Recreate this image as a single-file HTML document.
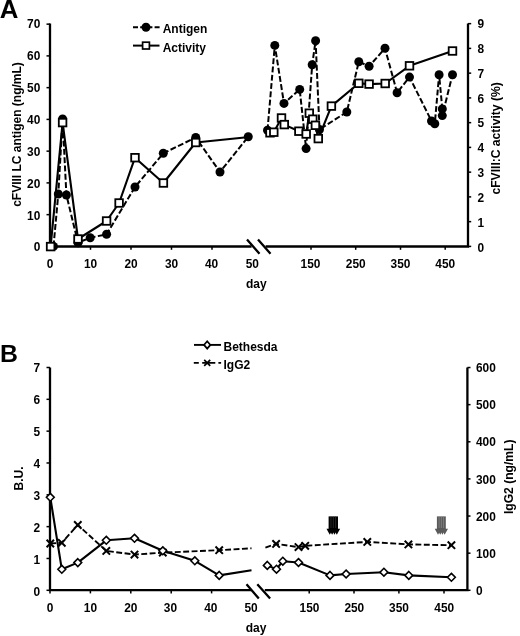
<!DOCTYPE html>
<html><head><meta charset="utf-8"><title>Figure</title>
<style>html,body{margin:0;padding:0;background:#fff;}svg{display:block;filter:grayscale(1);}</style>
</head><body>
<svg width="520" height="636" viewBox="0 0 520 636">
<rect width="520" height="636" fill="#fff"/>
<g font-family="Liberation Sans, sans-serif" font-weight="bold" fill="#000">
<text x="-0.3" y="17.9" font-size="25.8">A</text>
<text x="0" y="362.1" font-size="24.8">B</text>
<g stroke="#000" stroke-width="2.3" fill="none">
<path d="M50,23.4V246.5H251.6"/>
<path d="M265.6,246.5H468V23.4"/>
<path d="M247,239.5L259.5,253.8M258,239.5L270.5,253.8"/>
</g>
<g stroke="#000" stroke-width="1.5">
<path d="M46.5,246.40H50"/>
<path d="M46.5,214.65H50"/>
<path d="M46.5,182.90H50"/>
<path d="M46.5,151.15H50"/>
<path d="M46.5,119.40H50"/>
<path d="M46.5,87.65H50"/>
<path d="M46.5,55.90H50"/>
<path d="M46.5,24.15H50"/>
<path d="M468,246.40H471.2"/>
<path d="M468,221.65H471.2"/>
<path d="M468,196.90H471.2"/>
<path d="M468,172.15H471.2"/>
<path d="M468,147.40H471.2"/>
<path d="M468,122.65H471.2"/>
<path d="M468,97.90H471.2"/>
<path d="M468,73.15H471.2"/>
<path d="M468,48.40H471.2"/>
<path d="M468,23.65H471.2"/>
<path d="M50,246.4V249.8"/>
<path d="M90.5,246.4V249.8"/>
<path d="M131,246.4V249.8"/>
<path d="M171.5,246.4V249.8"/>
<path d="M212,246.4V249.8"/>
<path d="M311,246.4V249.8"/>
<path d="M355.7,246.4V249.8"/>
<path d="M400.5,246.4V249.8"/>
<path d="M445.2,246.4V249.8"/>
</g>
<g font-size="11.9">
<text x="40.3" y="251.40" text-anchor="end">0</text>
<text x="40.3" y="219.55" text-anchor="end">10</text>
<text x="40.3" y="187.70" text-anchor="end">20</text>
<text x="40.3" y="155.85" text-anchor="end">30</text>
<text x="40.3" y="124.00" text-anchor="end">40</text>
<text x="40.3" y="92.15" text-anchor="end">50</text>
<text x="40.3" y="60.30" text-anchor="end">60</text>
<text x="40.3" y="28.45" text-anchor="end">70</text>
<text x="477.6" y="251.50">0</text>
<text x="477.6" y="226.68">1</text>
<text x="477.6" y="201.87">2</text>
<text x="477.6" y="177.05">3</text>
<text x="477.6" y="152.23">4</text>
<text x="477.6" y="127.42">5</text>
<text x="477.6" y="102.60">6</text>
<text x="477.6" y="77.78">7</text>
<text x="477.6" y="52.97">8</text>
<text x="477.6" y="28.15">9</text>
<text x="50" y="268.1" text-anchor="middle">0</text>
<text x="90.5" y="268.1" text-anchor="middle">10</text>
<text x="131" y="268.1" text-anchor="middle">20</text>
<text x="171.5" y="268.1" text-anchor="middle">30</text>
<text x="211.5" y="268.1" text-anchor="middle">40</text>
<text x="252.3" y="268.1" text-anchor="middle">50</text>
<text x="310.5" y="268.1" text-anchor="middle">150</text>
<text x="355.7" y="268.1" text-anchor="middle">250</text>
<text x="400.5" y="268.1" text-anchor="middle">350</text>
<text x="445.2" y="268.1" text-anchor="middle">450</text>
</g>
<text x="256.3" y="287.5" font-size="12" text-anchor="middle">day</text>
<text transform="translate(21,134.5) rotate(-90)" font-size="12" text-anchor="middle">cFVIII LC antigen (ng/mL)</text>
<text transform="translate(500.4,138.4) rotate(-90)" font-size="12.1" text-anchor="middle">cFVIII:C activity (%)</text>
<path d="M133,27.3H160.5" stroke="#000" stroke-width="2" stroke-dasharray="5 2.2" fill="none"/>
<circle cx="146" cy="27.3" r="4.5"/>
<text x="162.7" y="33.4" font-size="12">Antigen</text>
<path d="M133,45.6H159.5" stroke="#000" stroke-width="2" fill="none"/>
<rect x="142.6" y="42.2" width="6.8" height="6.8" fill="#fff" stroke="#000" stroke-width="1.7"/>
<text x="162.7" y="51.7" font-size="12">Activity</text>
<polyline points="53.5,246.4 58.3,194 62.6,119 66.4,195 78,242.7 90.2,237.7 106.6,234.3 135,187 163.3,153.3 195.75,137.5 220,172 248.25,136.75" stroke="#000" stroke-width="2" stroke-dasharray="5.9 2.4" fill="none"/>
<polyline points="267.5,130.3 274.8,45.4 284,103.4 299.7,89.4 306.1,148.6 312.2,64.7 315.6,40.7 319.5,129.5 346.8,112 358.8,61.7 369.1,66.3 385,48.3 397.1,92.7 409.5,77.1 431.5,121 434.8,123.7 439.1,74.7 442.3,108.9 442.3,115.6 452.5,74.7" stroke="#000" stroke-width="2" stroke-dasharray="5.9 2.4" fill="none"/>
<circle cx="53.5" cy="246.4" r="4.5"/>
<circle cx="58.3" cy="194" r="4.5"/>
<circle cx="62.6" cy="119" r="4.5"/>
<circle cx="66.4" cy="195" r="4.5"/>
<circle cx="78" cy="242.7" r="4.5"/>
<circle cx="90.2" cy="237.7" r="4.5"/>
<circle cx="106.6" cy="234.3" r="4.5"/>
<circle cx="135" cy="187" r="4.5"/>
<circle cx="163.3" cy="153.3" r="4.5"/>
<circle cx="195.75" cy="137.5" r="4.5"/>
<circle cx="220" cy="172" r="4.5"/>
<circle cx="248.25" cy="136.75" r="4.5"/>
<circle cx="267.5" cy="130.3" r="4.5"/>
<circle cx="274.8" cy="45.4" r="4.5"/>
<circle cx="284" cy="103.4" r="4.5"/>
<circle cx="299.7" cy="89.4" r="4.5"/>
<circle cx="306.1" cy="148.6" r="4.5"/>
<circle cx="312.2" cy="64.7" r="4.5"/>
<circle cx="315.6" cy="40.7" r="4.5"/>
<circle cx="319.5" cy="129.5" r="4.5"/>
<circle cx="346.8" cy="112" r="4.5"/>
<circle cx="358.8" cy="61.7" r="4.5"/>
<circle cx="369.1" cy="66.3" r="4.5"/>
<circle cx="385" cy="48.3" r="4.5"/>
<circle cx="397.1" cy="92.7" r="4.5"/>
<circle cx="409.5" cy="77.1" r="4.5"/>
<circle cx="431.5" cy="121" r="4.5"/>
<circle cx="434.8" cy="123.7" r="4.5"/>
<circle cx="439.1" cy="74.7" r="4.5"/>
<circle cx="442.3" cy="108.9" r="4.5"/>
<circle cx="442.3" cy="115.6" r="4.5"/>
<circle cx="452.5" cy="74.7" r="4.5"/>
<polyline points="50.6,246.6 62.6,122.6 78,239 106.6,221 119.1,203 135,157.7 163.4,183 195.75,142.5 247,137.2" stroke="#000" stroke-width="2.1" fill="none" stroke-linejoin="round"/>
<polyline points="270,132.8 273.8,132.2 281.5,118 284.3,124.6 298.9,131.2 306.2,134 309.3,113.2 312.8,119.2 315.4,125.3 318.3,138.6 331.4,106.1 358.8,83.3 369.1,84.1 385.2,83.5 409.5,65.8 452.5,51" stroke="#000" stroke-width="2.1" fill="none" stroke-linejoin="round"/>
<rect x="46.80" y="242.80" width="7.6" height="7.6" fill="#fff" stroke="#000" stroke-width="1.8"/>
<rect x="58.80" y="118.80" width="7.6" height="7.6" fill="#fff" stroke="#000" stroke-width="1.8"/>
<rect x="74.20" y="235.20" width="7.6" height="7.6" fill="#fff" stroke="#000" stroke-width="1.8"/>
<rect x="102.80" y="217.20" width="7.6" height="7.6" fill="#fff" stroke="#000" stroke-width="1.8"/>
<rect x="115.30" y="199.20" width="7.6" height="7.6" fill="#fff" stroke="#000" stroke-width="1.8"/>
<rect x="131.20" y="153.90" width="7.6" height="7.6" fill="#fff" stroke="#000" stroke-width="1.8"/>
<rect x="159.60" y="179.20" width="7.6" height="7.6" fill="#fff" stroke="#000" stroke-width="1.8"/>
<rect x="191.95" y="138.70" width="7.6" height="7.6" fill="#fff" stroke="#000" stroke-width="1.8"/>
<rect x="266.20" y="129.00" width="7.6" height="7.6" fill="#fff" stroke="#000" stroke-width="1.8"/>
<rect x="270.00" y="128.40" width="7.6" height="7.6" fill="#fff" stroke="#000" stroke-width="1.8"/>
<rect x="277.70" y="114.20" width="7.6" height="7.6" fill="#fff" stroke="#000" stroke-width="1.8"/>
<rect x="280.50" y="120.80" width="7.6" height="7.6" fill="#fff" stroke="#000" stroke-width="1.8"/>
<rect x="295.10" y="127.40" width="7.6" height="7.6" fill="#fff" stroke="#000" stroke-width="1.8"/>
<rect x="302.40" y="130.20" width="7.6" height="7.6" fill="#fff" stroke="#000" stroke-width="1.8"/>
<rect x="305.50" y="109.40" width="7.6" height="7.6" fill="#fff" stroke="#000" stroke-width="1.8"/>
<rect x="309.00" y="115.40" width="7.6" height="7.6" fill="#fff" stroke="#000" stroke-width="1.8"/>
<rect x="311.60" y="121.50" width="7.6" height="7.6" fill="#fff" stroke="#000" stroke-width="1.8"/>
<rect x="314.50" y="134.80" width="7.6" height="7.6" fill="#fff" stroke="#000" stroke-width="1.8"/>
<rect x="327.60" y="102.30" width="7.6" height="7.6" fill="#fff" stroke="#000" stroke-width="1.8"/>
<rect x="355.00" y="79.50" width="7.6" height="7.6" fill="#fff" stroke="#000" stroke-width="1.8"/>
<rect x="365.30" y="80.30" width="7.6" height="7.6" fill="#fff" stroke="#000" stroke-width="1.8"/>
<rect x="381.40" y="79.70" width="7.6" height="7.6" fill="#fff" stroke="#000" stroke-width="1.8"/>
<rect x="405.70" y="62.00" width="7.6" height="7.6" fill="#fff" stroke="#000" stroke-width="1.8"/>
<rect x="448.70" y="47.20" width="7.6" height="7.6" fill="#fff" stroke="#000" stroke-width="1.8"/>
<g stroke="#000" stroke-width="2.3" fill="none">
<path d="M50,367.5V590.1H251.3"/>
<path d="M264.8,590.1H467.4V367.5"/>
<path d="M246.5,584.3L258.8,598.4M257.3,584.3L270.1,598.4"/>
</g>
<g stroke="#000" stroke-width="1.5">
<path d="M46.5,590.30H50"/>
<path d="M46.5,558.47H50"/>
<path d="M46.5,526.64H50"/>
<path d="M46.5,494.81H50"/>
<path d="M46.5,462.98H50"/>
<path d="M46.5,431.15H50"/>
<path d="M46.5,399.32H50"/>
<path d="M46.5,367.49H50"/>
<path d="M467.4,590.30H470.5"/>
<path d="M467.4,553.17H470.5"/>
<path d="M467.4,516.04H470.5"/>
<path d="M467.4,478.91H470.5"/>
<path d="M467.4,441.78H470.5"/>
<path d="M467.4,404.65H470.5"/>
<path d="M467.4,367.52H470.5"/>
<path d="M50,590.3V593.4"/>
<path d="M90.4,590.3V593.4"/>
<path d="M130.8,590.3V593.4"/>
<path d="M171.2,590.3V593.4"/>
<path d="M211.6,590.3V593.4"/>
<path d="M309.2,590.3V593.4"/>
<path d="M354,590.3V593.4"/>
<path d="M398.9,590.3V593.4"/>
<path d="M444,590.3V593.4"/>
</g>
<g font-size="11.9">
<text x="40" y="595.50" text-anchor="end">0</text>
<text x="40" y="563.61" text-anchor="end">1</text>
<text x="40" y="531.73" text-anchor="end">2</text>
<text x="40" y="499.84" text-anchor="end">3</text>
<text x="40" y="467.95" text-anchor="end">4</text>
<text x="40" y="436.06" text-anchor="end">5</text>
<text x="40" y="404.18" text-anchor="end">6</text>
<text x="40" y="372.29" text-anchor="end">7</text>
<text x="476" y="595.20">0</text>
<text x="476" y="558.00">100</text>
<text x="476" y="520.81">200</text>
<text x="476" y="483.61">300</text>
<text x="476" y="446.41">400</text>
<text x="476" y="409.22">500</text>
<text x="476" y="372.02">600</text>
<text x="50" y="611.7" text-anchor="middle">0</text>
<text x="90.4" y="611.7" text-anchor="middle">10</text>
<text x="130.8" y="611.7" text-anchor="middle">20</text>
<text x="170.4" y="611.7" text-anchor="middle">30</text>
<text x="210.8" y="611.7" text-anchor="middle">40</text>
<text x="251" y="611.7" text-anchor="middle">50</text>
<text x="309.5" y="611.7" text-anchor="middle">150</text>
<text x="354.3" y="611.7" text-anchor="middle">250</text>
<text x="399" y="611.7" text-anchor="middle">350</text>
<text x="444.2" y="611.7" text-anchor="middle">450</text>
</g>
<text x="256.1" y="632" font-size="12" text-anchor="middle">day</text>
<text transform="translate(23,478.4) rotate(-90)" font-size="12" text-anchor="middle">B.U.</text>
<text transform="translate(513.4,476.8) rotate(-90)" font-size="12.1" text-anchor="middle">IgG2 (ng/mL)</text>
<path d="M194,344.9H221" stroke="#000" stroke-width="1.9" fill="none"/>
<path d="M207.2,341.2L210.4,344.9L207.2,348.6L204,344.9Z" fill="#fff" stroke="#000" stroke-width="1.7"/>
<text x="223.5" y="350.9" font-size="12">Bethesda</text>
<path d="M193.8,362.9H198.8M202.2,362.9H215.3M218.4,362.9H221.1" stroke="#000" stroke-width="1.8" fill="none"/>
<path d="M204.2,359.9L210.2,365.9M210.2,359.9L204.2,365.9" stroke="#000" stroke-width="1.7" fill="none"/>
<text x="223.5" y="368.6" font-size="12">IgG2</text>
<polyline points="50.3,543.5 61.8,542.8 77.8,525 106.3,550.9 134.5,554.6 162.8,552.6 219.2,550.2 251.5,548.3" stroke="#000" stroke-width="1.9" stroke-dasharray="5.9 2.5" fill="none"/>
<polyline points="265.4,547.6 276.1,543.9 298.5,547.1 305.2,545.8 367.3,541.9 408.4,544.4 451.4,545.2" stroke="#000" stroke-width="1.9" stroke-dasharray="5.9 2.5" fill="none"/>
<path d="M46.60,539.80L54.00,547.20M54.00,539.80L46.60,547.20" stroke="#000" stroke-width="2" fill="none"/>
<path d="M58.10,539.10L65.50,546.50M65.50,539.10L58.10,546.50" stroke="#000" stroke-width="2" fill="none"/>
<path d="M74.10,521.30L81.50,528.70M81.50,521.30L74.10,528.70" stroke="#000" stroke-width="2" fill="none"/>
<path d="M102.60,547.20L110.00,554.60M110.00,547.20L102.60,554.60" stroke="#000" stroke-width="2" fill="none"/>
<path d="M130.80,550.90L138.20,558.30M138.20,550.90L130.80,558.30" stroke="#000" stroke-width="2" fill="none"/>
<path d="M159.10,548.90L166.50,556.30M166.50,548.90L159.10,556.30" stroke="#000" stroke-width="2" fill="none"/>
<path d="M215.50,546.50L222.90,553.90M222.90,546.50L215.50,553.90" stroke="#000" stroke-width="2" fill="none"/>
<path d="M272.40,540.20L279.80,547.60M279.80,540.20L272.40,547.60" stroke="#000" stroke-width="2" fill="none"/>
<path d="M294.80,543.40L302.20,550.80M302.20,543.40L294.80,550.80" stroke="#000" stroke-width="2" fill="none"/>
<path d="M301.50,542.10L308.90,549.50M308.90,542.10L301.50,549.50" stroke="#000" stroke-width="2" fill="none"/>
<path d="M363.60,538.20L371.00,545.60M371.00,538.20L363.60,545.60" stroke="#000" stroke-width="2" fill="none"/>
<path d="M404.70,540.70L412.10,548.10M412.10,540.70L404.70,548.10" stroke="#000" stroke-width="2" fill="none"/>
<path d="M447.70,541.50L455.10,548.90M455.10,541.50L447.70,548.90" stroke="#000" stroke-width="2" fill="none"/>
<polyline points="50.3,497.3 61.8,569.3 77.8,562.6 106.3,540.3 134.5,538.3 162.8,550.8 194.8,560.8 219.2,575.4 251.5,570.2" stroke="#000" stroke-width="2.1" fill="none" stroke-linejoin="round"/>
<polyline points="267.3,565.4 276.5,569.2 282.8,561.2 298.5,562.5 330,575.4 346.1,574 383.9,572.2 408.8,575.4 451.4,577.3" stroke="#000" stroke-width="2.1" fill="none" stroke-linejoin="round"/>
<path d="M50.3,493.40L54.20,497.3L50.3,501.20L46.40,497.3Z" fill="#fff" stroke="#000" stroke-width="1.6"/>
<path d="M61.8,565.40L65.70,569.3L61.8,573.20L57.90,569.3Z" fill="#fff" stroke="#000" stroke-width="1.6"/>
<path d="M77.8,558.70L81.70,562.6L77.8,566.50L73.90,562.6Z" fill="#fff" stroke="#000" stroke-width="1.6"/>
<path d="M106.3,536.40L110.20,540.3L106.3,544.20L102.40,540.3Z" fill="#fff" stroke="#000" stroke-width="1.6"/>
<path d="M134.5,534.40L138.40,538.3L134.5,542.20L130.60,538.3Z" fill="#fff" stroke="#000" stroke-width="1.6"/>
<path d="M162.8,546.90L166.70,550.8L162.8,554.70L158.90,550.8Z" fill="#fff" stroke="#000" stroke-width="1.6"/>
<path d="M194.8,556.90L198.70,560.8L194.8,564.70L190.90,560.8Z" fill="#fff" stroke="#000" stroke-width="1.6"/>
<path d="M219.2,571.50L223.10,575.4L219.2,579.30L215.30,575.4Z" fill="#fff" stroke="#000" stroke-width="1.6"/>
<path d="M267.3,561.50L271.20,565.4L267.3,569.30L263.40,565.4Z" fill="#fff" stroke="#000" stroke-width="1.6"/>
<path d="M276.5,565.30L280.40,569.2L276.5,573.10L272.60,569.2Z" fill="#fff" stroke="#000" stroke-width="1.6"/>
<path d="M282.8,557.30L286.70,561.2L282.8,565.10L278.90,561.2Z" fill="#fff" stroke="#000" stroke-width="1.6"/>
<path d="M298.5,558.60L302.40,562.5L298.5,566.40L294.60,562.5Z" fill="#fff" stroke="#000" stroke-width="1.6"/>
<path d="M330,571.50L333.90,575.4L330,579.30L326.10,575.4Z" fill="#fff" stroke="#000" stroke-width="1.6"/>
<path d="M346.1,570.10L350.00,574L346.1,577.90L342.20,574Z" fill="#fff" stroke="#000" stroke-width="1.6"/>
<path d="M383.9,568.30L387.80,572.2L383.9,576.10L380.00,572.2Z" fill="#fff" stroke="#000" stroke-width="1.6"/>
<path d="M408.8,571.50L412.70,575.4L408.8,579.30L404.90,575.4Z" fill="#fff" stroke="#000" stroke-width="1.6"/>
<path d="M451.4,573.40L455.30,577.3L451.4,581.20L447.50,577.3Z" fill="#fff" stroke="#000" stroke-width="1.6"/>
<rect x="328.6" y="516.4" width="9.399999999999977" height="13" fill="#000"/>
<path d="M326.48,528.8H333.08L329.78,534.8Z" fill="#000"/>
<path d="M328.82,528.8H335.43L332.12,534.8Z" fill="#000"/>
<path d="M331.18,528.8H337.78L334.48,534.8Z" fill="#000"/>
<path d="M333.52,528.8H340.12L336.82,534.8Z" fill="#000"/>
<path d="M330.95,516.4V528" stroke="#383838" stroke-width="0.7"/>
<path d="M333.30,516.4V528" stroke="#383838" stroke-width="0.7"/>
<path d="M335.65,516.4V528" stroke="#383838" stroke-width="0.7"/>
<rect x="436.9" y="516.4" width="8.900000000000034" height="13" fill="#5a5a5a"/>
<path d="M434.71,528.8H441.31L438.01,534.8Z" fill="#5a5a5a"/>
<path d="M436.94,528.8H443.54L440.24,534.8Z" fill="#5a5a5a"/>
<path d="M439.16,528.8H445.76L442.46,534.8Z" fill="#5a5a5a"/>
<path d="M441.39,528.8H447.99L444.69,534.8Z" fill="#5a5a5a"/>
<path d="M439.12,516.4V528" stroke="#8c8c8c" stroke-width="0.7"/>
<path d="M441.35,516.4V528" stroke="#8c8c8c" stroke-width="0.7"/>
<path d="M443.57,516.4V528" stroke="#8c8c8c" stroke-width="0.7"/>
</g>
</svg>
</body></html>
